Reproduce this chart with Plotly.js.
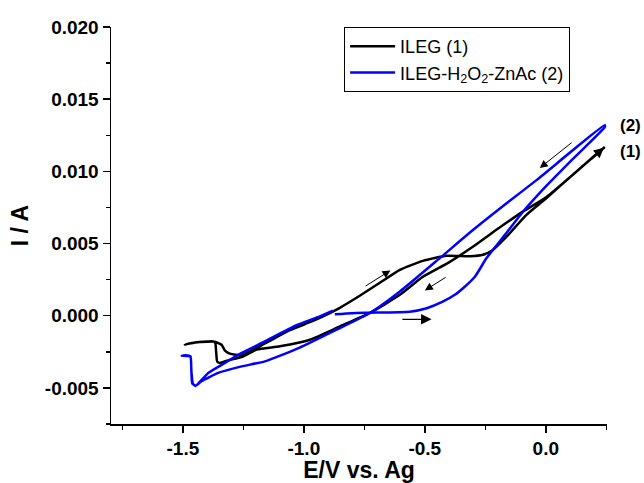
<!DOCTYPE html>
<html>
<head>
<meta charset="utf-8">
<script src="https://cdn.plot.ly/plotly-3.0.1.min.js"></script>
<style>html,body{margin:0;padding:0;background:#fff;}</style>
</head>
<body>
<div id="chart" style="width:644px;height:483px;"></div>
<script>
// ILEG (1): cathodic sweep from +0.25 V to -1.5 V, then anodic sweep back
const ilegE = [0.244, 0.120, 0.003, -0.095, -0.204, -0.300, -0.400, -0.508, -0.603, -0.727, -0.851, -0.975, -1.099, -1.195, -1.257, -1.313, -1.347, -1.358, -1.362, -1.366, -1.375, -1.400, -1.450, -1.492,
  -1.450, -1.400, -1.368, -1.340, -1.326, -1.306, -1.257, -1.161, -1.058, -0.975, -0.934, -0.851, -0.769, -0.686, -0.603, -0.508, -0.410, -0.314, -0.260, -0.219, -0.162, -0.080, 0.003, 0.120, 0.244];
const ilegI = [0.01169, 0.00989, 0.00823, 0.00721, 0.00595, 0.00479, 0.00370, 0.00270, 0.00145, 0.00019, -0.00074, -0.00166, -0.00212, -0.00235, -0.00286, -0.00309, -0.00327, -0.00318, -0.00260, -0.00190, -0.00178, -0.00179, -0.00185, -0.00200,
  -0.00186, -0.00180, -0.00180, -0.00201, -0.00242, -0.00263, -0.00272, -0.00192, -0.00100, -0.00045, -0.00015, 0.00055, 0.00138, 0.00228, 0.00318, 0.00380, 0.00415, 0.00412, 0.00422, 0.00456, 0.00548, 0.00699, 0.00816, 0.00989, 0.01169];

// ILEG-H2O2-ZnAc (2): anodic from -0.88 V, cathodic to -1.5 V, anodic back
const znE = [-0.872, -0.800, -0.727, -0.562, -0.492, -0.426, -0.376, -0.335, -0.293, -0.244, -0.169, -0.095, -0.021, 0.112, 0.244,
  0.244, -0.037, -0.162, -0.300, -0.438, -0.603, -0.727, -0.865, -1.017, -1.161, -1.257, -1.354, -1.423, -1.446, -1.461, -1.465, -1.469, -1.488, -1.505,
  -1.469, -1.465, -1.459, -1.448, -1.395, -1.326, -1.257, -1.161, -1.030, -0.934, -0.880];
const znI = [0.00010, 0.00018, 0.00021, 0.00028, 0.00052, 0.00097, 0.00145, 0.00201, 0.00270, 0.00401, 0.00560, 0.00719, 0.00858, 0.01086, 0.01307,
  0.01321, 0.00941, 0.00779, 0.00595, 0.00399, 0.00168, 0.00019, -0.00097, -0.00221, -0.00316, -0.00351, -0.00396, -0.00454, -0.00484, -0.00470, -0.00373, -0.00280, -0.00273, -0.00277,
  -0.00283, -0.00380, -0.00468, -0.00486, -0.00396, -0.00327, -0.00258, -0.00178, -0.00066, -0.00005, 0.00035];

const xTickVals = [-1.5, -1.0, -0.5, 0.0];
const xTickText = ['-1.5', '-1.0', '-0.5', '0.0'];
const yTickVals = [-0.005, 0.000, 0.005, 0.010, 0.015, 0.020];
const yTickText = ['-0.005', '0.000', '0.005', '0.010', '0.015', '0.020'];
const seriesNames = ['ILEG (1)', 'ILEG-H<sub>2</sub>O<sub>2</sub>-ZnAc (2)'];

const FONT = 'Liberation Sans, Arial, sans-serif';

const traces = [
  {x: ilegE, y: ilegI, name: seriesNames[0], type: 'scatter', mode: 'lines',
   line: {color: '#000000', width: 2.5, shape: 'spline', smoothing: 0.5}},
  {x: znE, y: znI, name: seriesNames[1], type: 'scatter', mode: 'lines',
   line: {color: '#0000ff', width: 2.5, shape: 'spline', smoothing: 0.5}}
];

const axisCommon = {
  showgrid: false, zeroline: false, showline: true, linecolor: '#000', linewidth: 1.5,
  ticks: 'outside', ticklen: 7, tickwidth: 1.5, tickcolor: '#000',
  tickfont: {family: FONT, size: 19, color: '#000', weight: 'bold'}
};

const arrowBase = {xref: 'x', yref: 'y', axref: 'x', ayref: 'y', text: '', showarrow: true,
  arrowhead: 2, arrowcolor: '#000', standoff: 0, startstandoff: 0};

const layout = {
  width: 644, height: 483,
  margin: {l: 111, r: 37, t: 27, b: 59},
  paper_bgcolor: '#fff', plot_bgcolor: '#fff',
  font: {family: FONT, color: '#000'},
  showlegend: true,
  legend: {x: 0.47, y: 1.0, xanchor: 'left', yanchor: 'top',
    bordercolor: '#000', borderwidth: 1, bgcolor: '#fff',
    font: {family: FONT, size: 18, color: '#000'}, itemwidth: 45, tracegroupgap: 0},
  xaxis: Object.assign({}, axisCommon, {
    range: [-1.797, 0.253], tickmode: 'array', tickvals: xTickVals, ticktext: xTickText,
    minor: {tick0: 0, dtick: 0.25, ticks: 'outside', ticklen: 4, tickwidth: 1.5, tickcolor: '#000', showgrid: false},
    title: {text: 'E/V vs. Ag', standoff: 7, font: {family: FONT, size: 23, color: '#000', weight: 'bold'}}
  }),
  yaxis: Object.assign({}, axisCommon, {
    range: [-0.0075, 0.020], tickmode: 'array', tickvals: yTickVals, ticktext: yTickText,
    minor: {tick0: 0, dtick: 0.0025, ticks: 'outside', ticklen: 4, tickwidth: 1.5, tickcolor: '#000', showgrid: false},
    title: {text: 'I / A', standoff: 10, font: {family: FONT, size: 23, color: '#000', weight: 'bold'}}
  }),
  annotations: [
    {xref: 'paper', yref: 'y', x: 1.022, y: 0.01321, xanchor: 'left', yanchor: 'middle', showarrow: false,
     text: '(2)', font: {family: FONT, size: 17, color: '#000', weight: 'bold'}},
    {xref: 'paper', yref: 'y', x: 1.022, y: 0.01141, xanchor: 'left', yanchor: 'middle', showarrow: false,
     text: '(1)', font: {family: FONT, size: 17, color: '#000', weight: 'bold'}},
    Object.assign({}, arrowBase, {x: -0.025, y: 0.01023, ax: 0.113, ay: 0.01207, arrowwidth: 1, arrowsize: 1.6}),
    Object.assign({}, arrowBase, {x: -0.642, y: 0.00314, ax: -0.751, ay: 0.00199, arrowwidth: 1, arrowsize: 1.6}),
    Object.assign({}, arrowBase, {x: -0.500, y: 0.00175, ax: -0.408, ay: 0.00272, arrowwidth: 1, arrowsize: 1.6}),
    Object.assign({}, arrowBase, {x: -0.472, y: -0.00025, ax: -0.599, ay: -0.00025, arrowwidth: 1.4, arrowsize: 1.5}),
    Object.assign({}, arrowBase, {x: 0.240, y: 0.01163, ax: 0.180, ay: 0.01076, arrowwidth: 2.5, arrowsize: 0.8})
  ]
};

Plotly.newPlot('chart', traces, layout, {displayModeBar: false, staticPlot: true});
</script>
</body>
</html>
